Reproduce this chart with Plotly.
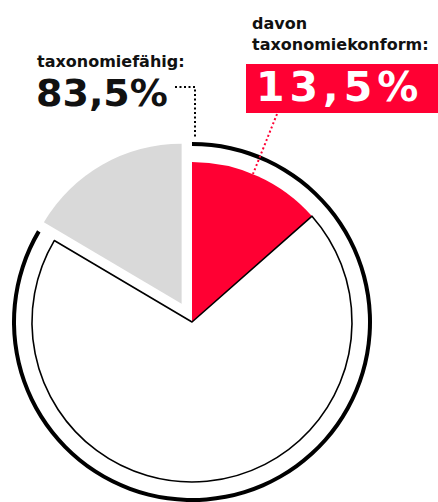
import math
import plotly.graph_objects as go

# Share of revenue (%)
segments = ["taxonomiekonform", "taxonomiefähig, nicht konform", "nicht taxonomiefähig"]
shares = [13.5, 70.0, 16.5]
eligible_total = 83.5
eligible_label = "taxonomiefähig:"
aligned_label_top = "davon"
aligned_label_bottom = "taxonomiekonform:"

RED = "#ff0033"
GREY = "#d9d9d9"
CLEAR = "rgba(0,0,0,0)"
W, H = 438, 502
FONT = "DejaVu Sans"


def px_x(x):
    return x / W


def px_y(y):
    return 1 - y / H


def box(cx, cy, r):
    return dict(x=[px_x(cx - r), px_x(cx + r)], y=[px_y(cy + r), px_y(cy - r)])


CX, CY, R = 192, 322, 160
RING_R = 180

fig = go.Figure()

# outer arc marking the taxonomy-eligible part
fig.add_trace(go.Pie(
    values=[eligible_total, 100 - eligible_total],
    labels=["taxonomiefähig", "rest"],
    marker=dict(colors=["black", CLEAR], line=dict(width=0)),
    hole=176 / RING_R, sort=False, direction="clockwise", rotation=0,
    textinfo="none", hoverinfo="skip", showlegend=False,
    domain=box(CX, CY, RING_R),
))

# main pie: aligned (red) and eligible but not aligned (white, outlined)
fig.add_trace(go.Pie(
    values=shares, labels=segments,
    marker=dict(colors=[RED, "white", CLEAR],
                line=dict(color=[RED, "black", CLEAR], width=[0, 1.6, 0])),
    sort=False, direction="clockwise", rotation=0,
    textinfo="none", hoverinfo="skip", showlegend=False,
    domain=box(CX, CY, R),
))

# not eligible slice, pulled out along its bisector
start = sum(shares[:2]) / 100 * 360
mid = math.radians(start + shares[2] / 100 * 360 / 2)
off = 21
gx, gy = CX + off * math.sin(mid), CY - off * math.cos(mid)
fig.add_trace(go.Pie(
    values=shares, labels=segments,
    marker=dict(colors=[CLEAR, CLEAR, GREY], line=dict(width=0)),
    sort=False, direction="clockwise", rotation=0,
    textinfo="none", hoverinfo="skip", showlegend=False,
    domain=box(gx, gy, R),
))

def fmt(v):
    return f"{v:.1f}".replace(".", ",") + "%"

shapes = [
    # red value box
    dict(type="rect", xref="paper", yref="paper",
         x0=px_x(246), x1=px_x(438), y0=px_y(113), y1=px_y(64),
         fillcolor=RED, line=dict(width=0), layer="below"),
    # black dotted leader
    dict(type="path", xref="paper", yref="paper",
         path=f"M {px_x(175)},{px_y(87)} L {px_x(195)},{px_y(87)} L {px_x(195)},{px_y(139)}",
         line=dict(color="black", width=2, dash="2px,2.5px")),
    # red dotted leader
    dict(type="line", xref="paper", yref="paper",
         x0=px_x(277), y0=px_y(114), x1=px_x(253), y1=px_y(174),
         line=dict(color=RED, width=2, dash="2px,2.5px")),
]

annotations = [
    dict(text=f"<b>{eligible_label}</b>", x=px_x(36), y=px_y(72),
         font=dict(family=FONT, size=16, color="#111")),
    dict(text=f"<b>{fmt(eligible_total)}</b>", x=px_x(35), y=px_y(116),
         font=dict(family=FONT, size=38, color="#111")),
    dict(text=f"<b>{aligned_label_top}<br>{aligned_label_bottom}</b>", x=px_x(251), y=px_y(55),
         font=dict(family=FONT, size=16, color="#111")),
    dict(text=f"<b><span style='letter-spacing:5px'>{fmt(shares[0])}</span></b>",
         x=px_x(255), y=px_y(112),
         font=dict(family=FONT, size=41, color="white")),
]
for a in annotations:
    a.update(xref="paper", yref="paper", xanchor="left", yanchor="bottom",
             showarrow=False, align="left", borderpad=0)

fig.update_layout(
    width=W, height=H, margin=dict(l=0, r=0, t=0, b=0),
    paper_bgcolor="white", plot_bgcolor="white",
    shapes=shapes, annotations=annotations,
)

fig.write_html("out.html")
